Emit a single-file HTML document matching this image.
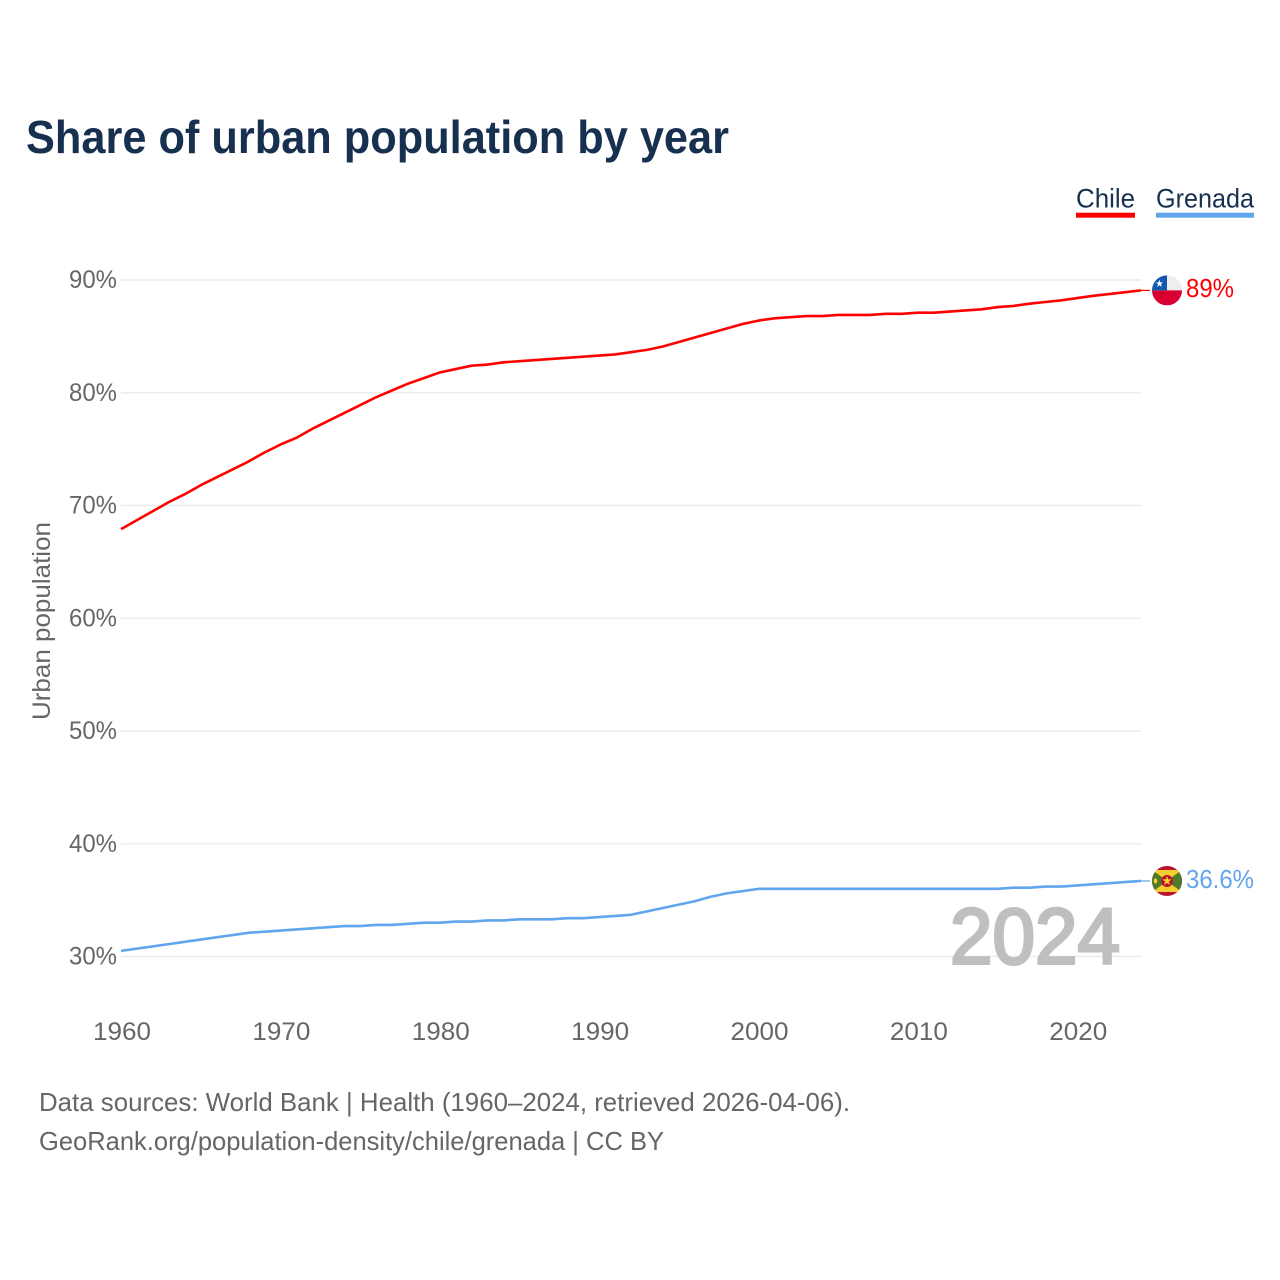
<!DOCTYPE html>
<html lang="en">
<head>
<meta charset="utf-8">
<title>Share of urban population by year</title>
<style>
html,body{margin:0;padding:0;background:#fff}
svg{display:block}
text{font-family:"Liberation Sans",sans-serif}
</style>
</head>
<body>
<svg id="chart" width="1280" height="1280" viewBox="0 0 1280 1280" xmlns="http://www.w3.org/2000/svg">
  <defs>
    <clipPath id="flag-clip"><circle cx="0" cy="0" r="15"></circle></clipPath>
  </defs>
  <rect width="1280" height="1280" fill="#ffffff"></rect>
  <text x="26" y="153" font-size="46" font-weight="700" fill="#17304f" textLength="703" lengthAdjust="spacingAndGlyphs">Share of urban population by year</text>

  <g>
    <g>
      <text x="1076" y="207.5" font-size="26.5" fill="#17304f" textLength="59" lengthAdjust="spacingAndGlyphs">Chile</text>
      <rect x="1076" y="212.7" width="59" height="5" fill="#ff0000"></rect>
    </g>
    <g>
      <text x="1156" y="207.5" font-size="26.5" fill="#17304f" textLength="98" lengthAdjust="spacingAndGlyphs">Grenada</text>
      <rect x="1156" y="212.7" width="98" height="5" fill="#61a5ec"></rect>
    </g>
  </g>

  <g id="grid"></g>
  <g id="y-ticks"></g>
  <g id="x-ticks"></g>
  <text transform="translate(50,621) rotate(-90)" text-anchor="middle" font-size="25" fill="#666666" textLength="198" lengthAdjust="spacingAndGlyphs">Urban population</text>
  <text x="950" y="963.5" font-size="79" fill="#bfbfbf" stroke="#bfbfbf" stroke-width="3" textLength="170" lengthAdjust="spacingAndGlyphs">2024</text>
  <g id="series"></g>

  <text x="39" y="1111" font-size="26" fill="#666666" textLength="811" lengthAdjust="spacingAndGlyphs">Data sources: World Bank | Health (1960–2024, retrieved 2026-04-06).</text>
  <text x="39" y="1150" font-size="26" fill="#666666" textLength="625" lengthAdjust="spacingAndGlyphs">GeoRank.org/population-density/chile/grenada | CC BY</text>
</svg>
<script>
const years = [1960,1961,1962,1963,1964,1965,1966,1967,1968,1969,1970,1971,1972,1973,1974,1975,1976,1977,1978,1979,1980,1981,1982,1983,1984,1985,1986,1987,1988,1989,1990,1991,1992,1993,1994,1995,1996,1997,1998,1999,2000,2001,2002,2003,2004,2005,2006,2007,2008,2009,2010,2011,2012,2013,2014,2015,2016,2017,2018,2019,2020,2021,2022,2023,2024];
const chileValues = [67.9,68.7,69.5,70.3,71.0,71.8,72.5,73.2,73.9,74.7,75.4,76.0,76.8,77.5,78.2,78.9,79.6,80.2,80.8,81.3,81.8,82.1,82.4,82.5,82.7,82.8,82.9,83.0,83.1,83.2,83.3,83.4,83.6,83.8,84.1,84.5,84.9,85.3,85.7,86.1,86.4,86.6,86.7,86.8,86.8,86.9,86.9,86.9,87.0,87.0,87.1,87.1,87.2,87.3,87.4,87.6,87.7,87.9,88.05,88.2,88.4,88.6,88.75,88.92,89.08];
const grenadaValues = [30.5,30.7,30.9,31.1,31.3,31.5,31.7,31.9,32.1,32.2,32.3,32.4,32.5,32.6,32.7,32.7,32.8,32.8,32.9,33.0,33.0,33.1,33.1,33.2,33.2,33.3,33.3,33.3,33.4,33.4,33.5,33.6,33.7,34.0,34.3,34.6,34.9,35.3,35.6,35.8,36.0,36.0,36.0,36.0,36.0,36.0,36.0,36.0,36.0,36.0,36.0,36.0,36.0,36.0,36.0,36.0,36.1,36.1,36.2,36.2,36.3,36.4,36.5,36.6,36.7];
const yTickValues = [30,40,50,60,70,80,90];
const xTickValues = [1960,1970,1980,1990,2000,2010,2020];
const chileLabel = "89%";
const grenadaLabel = "36.6%";

const NS = "http://www.w3.org/2000/svg";
const xScale = function (year) { return 121 + (year - 1960) * (1020 / 64); };
const yScale = function (value) { return 956.5 - (value - 30) * 11.275; };

function make(tag, parent, attrs, text) {
  const node = document.createElementNS(NS, tag);
  for (const key in attrs) node.setAttribute(key, attrs[key]);
  if (text !== undefined) node.textContent = text;
  parent.appendChild(node);
  return node;
}

const gridLayer = document.getElementById("grid");
const yTickLayer = document.getElementById("y-ticks");
const xTickLayer = document.getElementById("x-ticks");
const seriesLayer = document.getElementById("series");

yTickValues.forEach(function (tick) {
  const gridLine = make("line", gridLayer, { x1: 121, x2: 1141.5, y1: yScale(tick), y2: yScale(tick), stroke: "#ececec", "stroke-width": 1.6 });
  
  
  const yLabel = make("text", yTickLayer, { x: 69, y: yScale(tick) + 8, "font-size": 25, fill: "#666666", textLength: 48, lengthAdjust: "spacingAndGlyphs" }, tick + "%");
  
  
});

xTickValues.forEach(function (tick) {
  const xLabel = make("text", xTickLayer, { x: xScale(tick) - 28, y: 1040, "font-size": 25, fill: "#666666", textLength: 58, lengthAdjust: "spacingAndGlyphs" }, String(tick));
  
  
});

function linePoints(values) {
  return values.map(function (value, i) {
    return xScale(years[i]).toFixed(2) + "," + yScale(value).toFixed(2);
  }).join(" ");
}

const chileLine = make("polyline", seriesLayer, { points: linePoints(chileValues), fill: "none", stroke: "#ff0000", "stroke-width": 2.6, "stroke-linejoin": "round" });



const grenadaLine = make("polyline", seriesLayer, { points: linePoints(grenadaValues), fill: "none", stroke: "#61a5ec", "stroke-width": 2.6, "stroke-linejoin": "round" });



const chileEndY = yScale(chileValues[chileValues.length - 1]);
const grenadaEndY = yScale(grenadaValues[grenadaValues.length - 1]);

const chileLeader = make("line", seriesLayer, { x1: 1141, x2: 1150, y1: chileEndY, y2: chileEndY, stroke: "#ff0000", "stroke-width": 1.2 });



const grenadaLeader = make("line", seriesLayer, { x1: 1141, x2: 1150, y1: grenadaEndY, y2: grenadaEndY, stroke: "#61a5ec", "stroke-width": 1.2 });



const chileFlag = make("g", seriesLayer, { transform: "translate(1167," + chileEndY + ")", "clip-path": "url(#flag-clip)" });


make("rect", chileFlag, { x: -15, y: -15, width: 30, height: 15, fill: "#eeeeee" });
make("rect", chileFlag, { x: -15, y: 0, width: 30, height: 15, fill: "#d80032" });
make("rect", chileFlag, { x: -15, y: -15, width: 15, height: 15, fill: "#1458b0" });
make("polygon", chileFlag, { points: "-7.5,-10.5 -6.5,-7.9 -3.9,-7.9 -6,-6.2 -5.2,-3.5 -7.5,-5.1 -9.8,-3.5 -9,-6.2 -11.1,-7.9 -8.5,-7.9", fill: "#ffffff" });

const grenadaFlag = make("g", seriesLayer, { transform: "translate(1167," + grenadaEndY + ")", "clip-path": "url(#flag-clip)" });


make("rect", grenadaFlag, { x: -15, y: -15, width: 30, height: 30, fill: "#b8142e" });
make("polygon", grenadaFlag, { points: "-15,-11 15,-11 0,0", fill: "#f5cf2f" });
make("polygon", grenadaFlag, { points: "-15,11 15,11 0,0", fill: "#f5cf2f" });
make("polygon", grenadaFlag, { points: "-15,-11 0,0 -15,11", fill: "#4f7a2c" });
make("polygon", grenadaFlag, { points: "15,-11 0,0 15,11", fill: "#4f7a2c" });
make("circle", grenadaFlag, { cx: 0, cy: 0, r: 6, fill: "#b8142e" });
make("polygon", grenadaFlag, { points: "0,-5 1.2,-1.6 4.8,-1.6 1.9,0.6 3,4 0,2 -3,4 -1.9,0.6 -4.8,-1.6 -1.2,-1.6", fill: "#f5cf2f" });
make("ellipse", grenadaFlag, { cx: -11.5, cy: 0, rx: 1.8, ry: 2.6, fill: "#f5cf2f" });

const chileValueLabel = make("text", seriesLayer, { x: 1186, y: chileEndY + 6.5, "font-size": 26, fill: "#ff0000", textLength: 48, lengthAdjust: "spacingAndGlyphs" }, chileLabel);



const grenadaValueLabel = make("text", seriesLayer, { x: 1186, y: grenadaEndY + 6.8, "font-size": 26, fill: "#61a5ec", textLength: 68, lengthAdjust: "spacingAndGlyphs" }, grenadaLabel);


</script>
</body>
</html>
